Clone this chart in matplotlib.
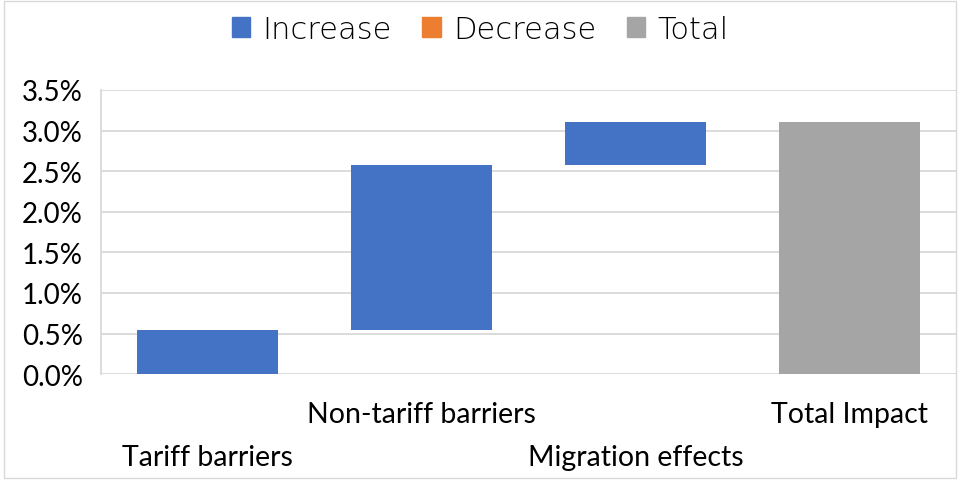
import matplotlib
matplotlib.use("Agg")
import matplotlib.pyplot as plt
from matplotlib.patches import Rectangle, Patch
from matplotlib.ticker import FuncFormatter, MultipleLocator
import numpy as np

categories = ["Tariff barriers", "Non-tariff barriers", "Migration effects", "Total Impact"]
increments = [0.54, 2.04, 0.52]          # percent
total_value = 3.10                        # percent
legend_labels = ["Increase", "Decrease", "Total"]

c_inc = "#4472C4"
c_dec = "#ED7D31"
c_tot = "#A5A5A5"

plt.rcParams['font.family'] = ['Lato', 'DejaVu Sans']

fig = plt.figure(figsize=(9.6, 4.81), dpi=100)
ax = fig.add_axes([0.105, 0.22, 0.891, 0.591])

inc = np.array(increments)
bottoms = np.concatenate([[0], np.cumsum(inc)[:-1]])
x = np.arange(len(categories))
ax.bar(x[:3], inc, bottom=bottoms, width=0.66, color=c_inc, zorder=3)
ax.bar(x[3], total_value, width=0.66, color=c_tot, zorder=3)

ax.set_xlim(-0.5, 3.5)
ax.set_ylim(0, 3.5)
ax.yaxis.set_major_locator(MultipleLocator(0.5))
ax.yaxis.set_major_formatter(FuncFormatter(lambda v, p: f"{v:.1f}%"))
ax.grid(axis='y', color='#D9D9D9', linewidth=1.3, zorder=0)
for s in ['top', 'right', 'bottom']:
    ax.spines[s].set_visible(False)
ax.spines['left'].set_color('#D9D9D9')
ax.spines['left'].set_linewidth(1.3)
ax.tick_params(axis='y', length=0, labelsize=20, pad=13, colors='black')
ax.tick_params(axis='x', length=0, labelsize=20.5)
ax.set_xticks(x)
ax.set_xticklabels(categories)
for i, t in enumerate(ax.xaxis.get_major_ticks()):
    t.set_pad(50 if i % 2 == 0 else 19)

handles = [Patch(color=c_inc), Patch(color=c_dec), Patch(color=c_tot)]
fig.legend(handles, legend_labels, loc='center', bbox_to_anchor=(0.5, 0.937), ncol=3,
           frameon=False, prop={'family': 'DejaVu Sans', 'size': 22, 'weight': 'light'},
           handlelength=0.6, handleheight=0.6,
           handletextpad=0.4, columnspacing=1.0)

fig.patches.append(Rectangle((0.004, 0.004), 0.992, 0.992, transform=fig.transFigure,
                             fill=False, edgecolor='#D9D9D9', linewidth=1))

fig.savefig("out.png", dpi=100)
